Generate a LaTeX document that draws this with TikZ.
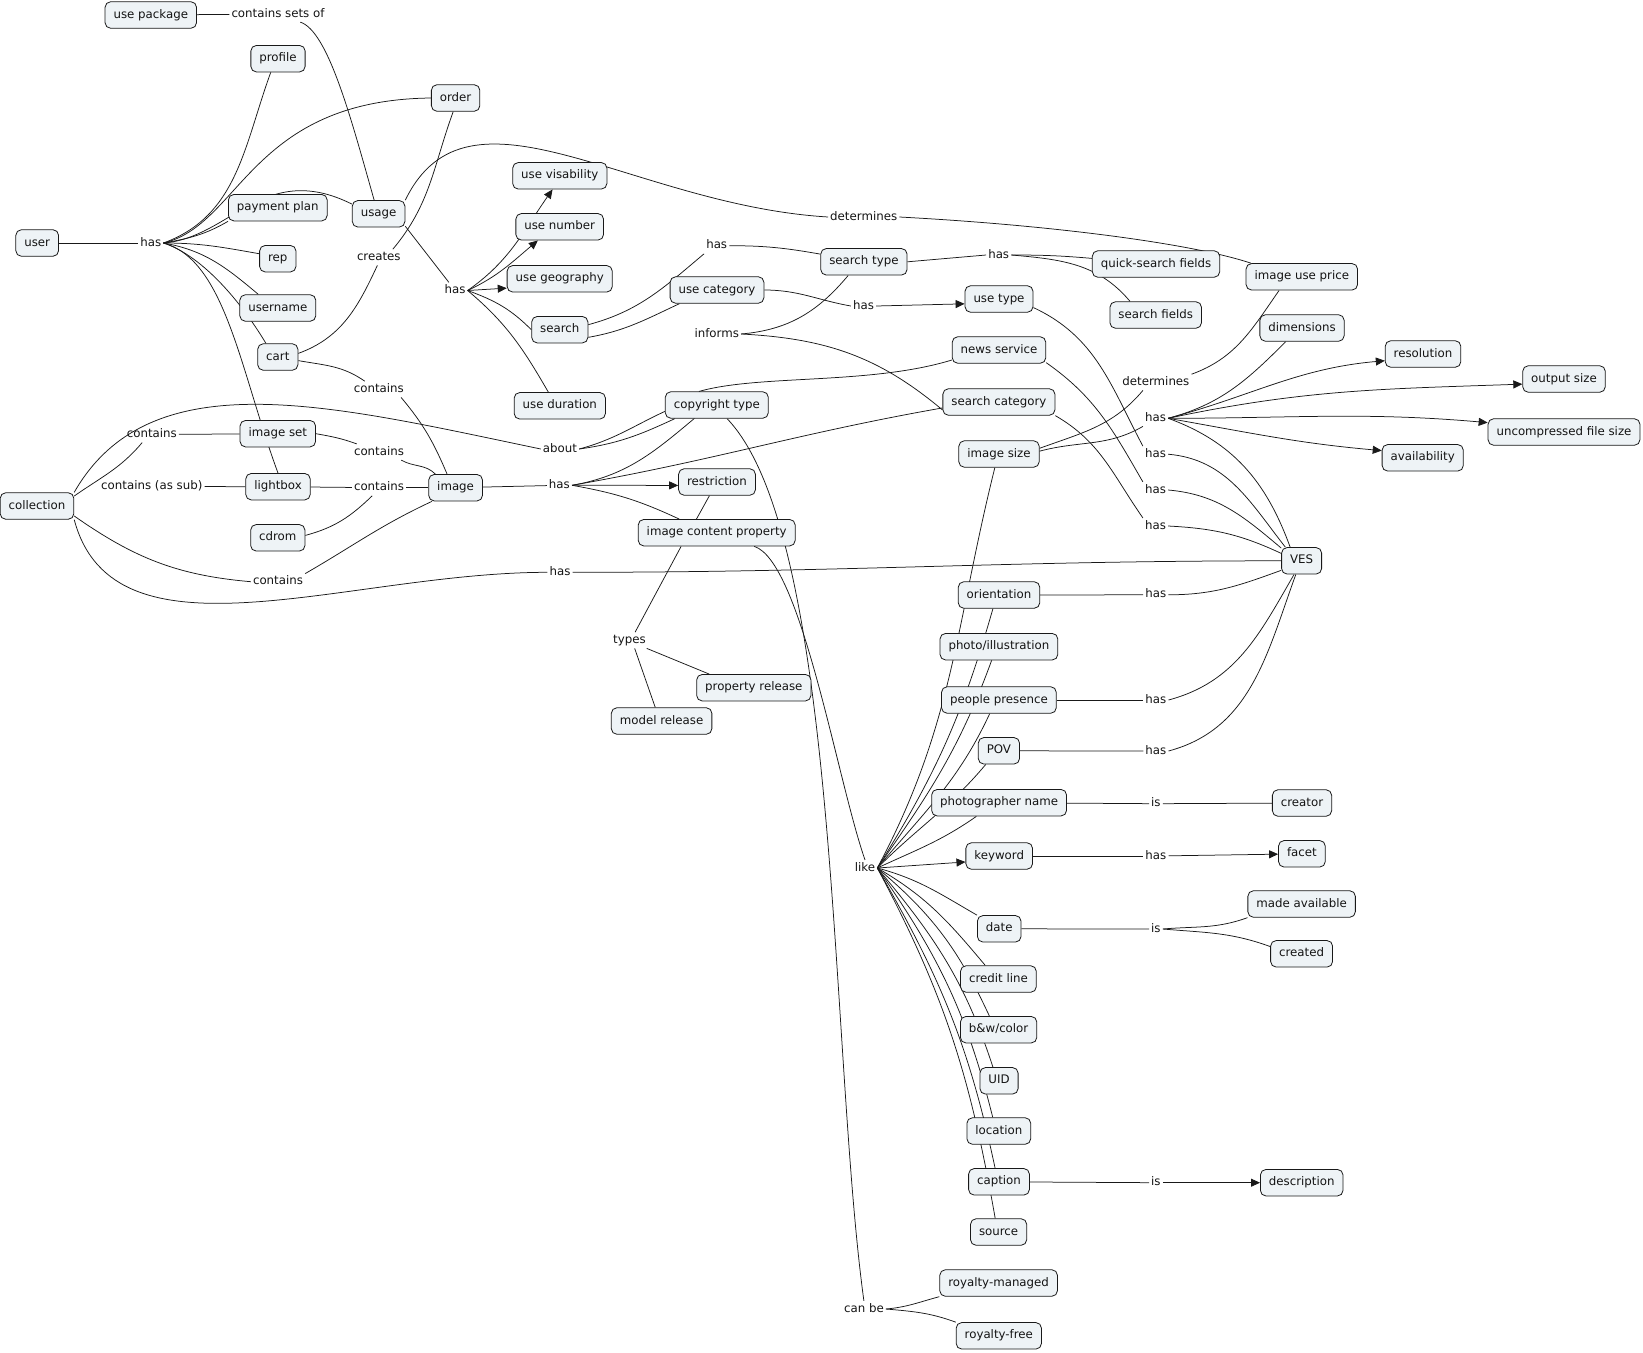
\documentclass[tikz,border=0pt]{standalone}
\usepackage{fontspec}
\setmainfont{DejaVu Sans}
\usetikzlibrary{arrows.meta, backgrounds}
\definecolor{cmapfill}{RGB}{238,243,246}
\definecolor{cmapline}{RGB}{25,25,25}
\definecolor{cmaptext}{RGB}{20,20,20}
\tikzset{
  concept/.style={draw=cmapline, fill=cmapfill, rounded corners=5.5pt, line width=0.8pt, font=\fontsize{11.8}{14}\selectfont, text=cmaptext, inner xsep=8.5pt, inner ysep=0pt, minimum height=26.5pt, text height=9pt, text depth=2.8pt},
  phrase/.style={font=\fontsize{11.8}{14}\selectfont, text=cmaptext, inner sep=2pt, text height=9pt, text depth=2.8pt},
  link/.style={draw=cmapline, line width=0.75pt},
  arr/.style={link, -{Triangle[length=9pt, width=8pt]}}
}

\begin{document}
\begin{tikzpicture}[x=1pt, y=1pt]
\useasboundingbox (0,0) rectangle (1643,-1352);
% concepts
\node[concept] (usepkg) at (150.8,-15) {use package};
\node[concept] (profile) at (278,-58.7) {profile};
\node[concept] (order) at (455.6,-98) {order};
\node[concept] (payplan) at (277.8,-207.7) {payment plan};
\node[concept] (usage) at (378.6,-213.8) {usage};
\node[concept] (user) at (37.2,-243) {user};
\node[concept] (rep) at (277.8,-258.7) {rep};
\node[concept] (username) at (277.8,-308) {username};
\node[concept] (cart) at (277.8,-357) {cart};
\node[concept] (imgset) at (277.8,-433.7) {image set};
\node[concept] (lightbox) at (278,-486.7) {lightbox};
\node[concept] (cdrom) at (277.8,-537.8) {cdrom};
\node[concept] (collection) at (37,-506) {collection};
\node[concept] (image) at (455.6,-487.7) {image};
\node[concept] (usevis) at (559.8,-175.8) {use visability};
\node[concept] (usenum) at (559.7,-226.8) {use number};
\node[concept] (usegeo) at (559.7,-278.8) {use geography};
\node[concept] (search) at (559.8,-329.7) {search};
\node[concept] (usedur) at (559.8,-405.8) {use duration};
\node[concept] (usecat) at (717,-290) {use category};
\node[concept] (srchtype) at (863.9,-261.8) {search type};
\node[concept] (usetype) at (999,-299) {use type};
\node[concept] (quick) at (1156,-264) {quick-search fields};
\node[concept] (srchfields) at (1155.7,-315) {search fields};
\node[concept] (price) at (1301.8,-276.8) {image use price};
\node[concept] (dimensions) at (1302,-328) {dimensions};
\node[concept] (resolution) at (1423,-354) {resolution};
\node[concept] (outsize) at (1564,-379) {output size};
\node[concept] (uncomp) at (1564,-432) {uncompressed file size};
\node[concept] (availability) at (1422.7,-457.8) {availability};
\node[concept] (news) at (999,-350) {news service};
\node[concept] (srchcat) at (998.9,-402) {search category};
\node[concept] (imgsize) at (999,-454) {image size};
\node[concept] (copyright) at (716.8,-405) {copyright type};
\node[concept] (restriction) at (717,-482) {restriction};
\node[concept] (icp) at (716.7,-532.7) {image content property};
\node[concept] (ves) at (1301.6,-560.8) {VES};
\node[concept] (proprel) at (753.8,-687.7) {property release};
\node[concept] (modrel) at (661.6,-721) {model release};
\node[concept] (orientation) at (999,-595) {orientation};
\node[concept] (photo) at (998.9,-646.7) {photo/illustration};
\node[concept] (people) at (998.9,-700) {people presence};
\node[concept] (pov) at (998.9,-750.8) {POV};
\node[concept] (photog) at (999.1,-802.7) {photographer name};
\node[concept] (creator) at (1302,-803) {creator};
\node[concept] (keyword) at (999.2,-856) {keyword};
\node[concept] (facet) at (1301.9,-853.8) {facet};
\node[concept] (madeavail) at (1301.6,-904) {made available};
\node[concept] (date) at (999.2,-928.8) {date};
\node[concept] (created) at (1301.6,-953.8) {created};
\node[concept] (credit) at (998.4,-979) {credit line};
\node[concept] (bwcolor) at (998.6,-1029.7) {b\&w/color};
\node[concept] (uid) at (999,-1080.8) {UID};
\node[concept] (location) at (998.8,-1131) {location};
\node[concept] (caption) at (999,-1181.8) {caption};
\node[concept] (description) at (1301.7,-1182.7) {description};
\node[concept] (source) at (998.6,-1232) {source};
\node[concept] (roymgd) at (998.6,-1283) {royalty-managed};
\node[concept] (royfree) at (998.8,-1335.8) {royalty-free};
% linking phrases
\node[phrase] (lcso) at (278,-14) {contains sets of};
\node[phrase] (hasU) at (150.8,-243) {has};
\node[phrase] (creates) at (378.8,-257.3) {creates};
\node[phrase] (hasUs) at (455,-290.5) {has};
\node[phrase] (containsK) at (378.8,-389.3) {contains};
\node[phrase] (containsC) at (151.8,-434.5) {contains};
\node[phrase] (containsSub) at (151.8,-486.5) {contains (as sub)};
\node[phrase] (containsS) at (379,-452) {contains};
\node[phrase] (containsL) at (379,-487.7) {contains};
\node[phrase] (containsI) at (278,-581.7) {contains};
\node[phrase] (about) at (560,-449) {about};
\node[phrase] (hasI) at (559.4,-485.3) {has};
\node[phrase] (hasC) at (560,-572.3) {has};
\node[phrase] (hasST) at (716.7,-245.7) {has};
\node[phrase] (informs) at (716.7,-334) {informs};
\node[phrase] (hasUC) at (863.5,-306) {has};
\node[phrase] (detU) at (863.7,-217) {determines};
\node[phrase] (hasSTQ) at (998.7,-255) {has};
\node[phrase] (detS) at (1155.9,-382.3) {determines};
\node[phrase] (hasH) at (1155.5,-418.3) {has};
\node[phrase] (hasUT) at (1155.5,-454.2) {has};
\node[phrase] (hasN) at (1155.5,-490) {has};
\node[phrase] (hasSC) at (1155.5,-526) {has};
\node[phrase] (hasO) at (1155.7,-594.8) {has};
\node[phrase] (hasPP) at (1155.9,-700) {has};
\node[phrase] (hasPOV) at (1155.9,-751) {has};
\node[phrase] (isP) at (1155.9,-803.7) {is};
\node[phrase] (hasK) at (1155.9,-856) {has};
\node[phrase] (isD) at (1155.9,-929) {is};
\node[phrase] (isC) at (1155.9,-1182.7) {is};
\node[phrase] (like) at (865,-868) {like};
\node[phrase] (canbe) at (863.9,-1309) {can be};
\node[phrase] (types) at (629.4,-640.3) {types};

\begin{scope}[on background layer]
% user
\draw[link] (user) -- (hasU);
\draw[link] (hasU.east) to[out=20,in=-110] (profile.-118);
\draw[link] (hasU.east) .. controls +(77,18) and +(-181,-2) .. (order.west);
\draw[link] (hasU.east) to[out=10,in=-150] (payplan.south west);
\draw[link] (hasU.east) .. controls +(67,5) and +(-88,44) .. (usage.160);
\draw[link] (hasU.east) to[out=0,in=170] (rep.165);
\draw[link] (hasU.east) to[out=-10,in=140] (username.145);
\draw[link] (hasU.east) .. controls +(37,-12) and +(-27,45) .. (cart.131);
\draw[link] (hasU.east) .. controls +(62,-17) and +(-38,103) .. (lightbox.north);
\draw[link] (usepkg) -- (lcso);
\draw[link] (lcso.-20) .. controls +(28,-9) and +(-23,81) .. (usage.108);
\draw[link] (cart.10) to[out=20,in=-115] (creates.-100);
\draw[link] (creates.30) to[out=50,in=-110] (order.-100);
\draw[link] (cart.-10) to[out=-10,in=145] (containsK.150);
\draw[link] (containsK.-20) to[out=-50,in=113] (image.122);
% usage
\draw[link] (usage.-25) -- (hasUs.127);
\draw[link] (usage.north east) .. controls +(63,130) and +(-198,12) .. (detU.west);
\draw[link] (detU.east) .. controls +(150,-8) and +(-60,20) .. (price.165);
\draw[arr] (hasUs.east) to[out=35,in=-125] (usevis.-118);
\draw[arr] (hasUs.east) to[out=25,in=-140] (usenum.-148);
\draw[arr] (hasUs.east) -- (usegeo.-170);
\draw[link] (hasUs.east) to[out=-20,in=135] (search.west);
\draw[link] (hasUs.east) to[out=-40,in=120] (usedur.130);
% search
\draw[link] (search.10) to[out=15,in=-140] (hasST.south west);
\draw[link] (hasST.east) to[out=0,in=170] (srchtype.170);
\draw[link] (search.-15) to[out=10,in=-155] (usecat.-160);
\draw[link] (usecat.east) to[out=0,in=170] (hasUC.west);
\draw[arr] (hasUC.east) -- (usetype.-172);
\draw[link] (srchtype.east) -- (hasSTQ.west);
\draw[link] (hasSTQ.east) to[out=0,in=175] (quick.175);
\draw[link] (hasSTQ.east) to[out=-5,in=130] (srchfields.152);
\draw[link] (srchtype.-139) to[out=-130,in=5] (informs.east);
\draw[link] (informs.east) to[out=-3,in=140] (srchcat.-172);
% image size and VES
\draw[link] (imgsize.8) to[out=20,in=-130] (detS.-148);
\draw[link] (detS.north east) to[out=20,in=-125] (price.-149);
\draw[link] (imgsize.4) to[out=15,in=-150] (hasH.south west);
\draw[link] (hasH.east) to[out=15,in=-135] (dimensions.-140);
\draw[arr] (hasH.east) to[out=15,in=-175] (resolution.-170);
\draw[arr] (hasH.east) to[out=12,in=-178] (outsize.-173);
\draw[arr] (hasH.east) to[out=0,in=175] (uncomp.173);
\draw[arr] (hasH.east) to[out=-10,in=175] (availability.170);
\draw[link] (hasH.east) to[out=-20,in=110] (ves.130);
\draw[link] (usetype.-14) to[out=-25,in=118] (hasUT.north west);
\draw[link] (hasUT.east) to[out=-5,in=128] (ves.140);
\draw[link] (news.-15) to[out=-35,in=120] (hasN.north west);
\draw[link] (hasN.east) to[out=-5,in=140] (ves.148);
\draw[link] (srchcat.south east) to[out=-30,in=125] (hasSC.north west);
\draw[link] (hasSC.east) to[out=-3,in=155] (ves.160);
\draw[link] (orientation) -- (hasO);
\draw[link] (hasO.east) to[out=0,in=-160] (ves.-155);
\draw[link] (people) -- (hasPP);
\draw[link] (hasPP.east) to[out=15,in=-120] (ves.-119);
\draw[link] (pov) -- (hasPOV);
\draw[link] (hasPOV.east) to[out=15,in=-110] (ves.-113);
% collection
\draw[link] (collection.north east) .. controls +(76,133) and +(-211,44) .. (about.west);
\draw[link] (collection.15) to[out=35,in=-130] (containsC.-140);
\draw[link] (containsC) -- (imgset);
\draw[link] (containsSub) -- (lightbox);
\draw[link] (collection.-15) to[out=-35,in=175] (containsI.west);
\draw[link] (containsI.north east) to[out=30,in=-155] (image.-150);
\draw[link] (collection.south east) .. controls +(40,-150) and +(-200,0) .. (hasC.west);
\draw[link] (hasC.east) to[out=0,in=180] (ves.west);
\draw[link] (imgset.east) to[out=-10,in=160] (containsS.160);
\draw[link] (containsS.-20) to[out=-30,in=135] (image.146);
\draw[link] (lightbox) -- (containsL);
\draw[link] (containsL) -- (image);
\draw[link] (cdrom.5) to[out=15,in=-136] (containsL.-130);
% image
\draw[link] (image) -- (hasI);
\draw[arr] (hasI.east) -- (restriction.-175);
\draw[link] (hasI.east) to[out=10,in=-170] (srchcat.-174);
\draw[link] (hasI.east) to[out=-10,in=155] (icp.160);
\draw[link] (hasI.east) to[out=10,in=-140] (copyright.-149) -- (copyright.142) .. controls +(60,17) and +(-82,-25) .. (news.-168);
\draw[link] (about.east) to[out=15,in=-155] (copyright.-173);
\draw[link] (about.east) to[out=8,in=-155] (copyright.-162);
\draw[link] (restriction.-119) -- (icp.146);
\draw[link] (copyright.-53) .. controls +(113,-118) and +(-34,248) .. (canbe.north);
\draw[link] (canbe.east) to[out=5,in=-165] (roymgd.south west);
\draw[link] (canbe.east) to[out=-5,in=160] (royfree.north west);
\draw[link] (icp.-159) -- (types.55);
\draw[link] (types.-25) -- (proprel.163);
\draw[link] (types.-57) -- (modrel.115);
% image content property
\draw[link] (icp.-20) .. controls +(47,-15) and +(-28,80) .. (like.north);
\foreach \tgt/\oa/\ia in {imgsize.-107/62/-104, orientation.-114/58/-106, photo.-118/55/-110, people.-124/50/-115, pov.-134/45/-130, photog.-149/25/-145, date.north west/-15/150, credit.134/-30/130, bwcolor.124/-40/115, uid.114/-50/108, location.114/-55/104, caption.106/-60/102, source.104/-62/100}
  \draw[link] (like.east) to[out=\oa,in=\ia] (\tgt);
\draw[arr] (like.east) -- (keyword.-170);
\draw[link] (photog) -- (isP);
\draw[link] (isP) -- (creator);
\draw[link] (keyword) -- (hasK);
\draw[arr] (hasK) -- (facet);
\draw[link] (date) -- (isD);
\draw[link] (isD.east) to[out=5,in=-160] (madeavail.south west);
\draw[link] (isD.east) to[out=-5,in=160] (created.167);
\draw[link] (caption) -- (isC);
\draw[arr] (isC) -- (description);
\end{scope}
\end{tikzpicture}
\end{document}
